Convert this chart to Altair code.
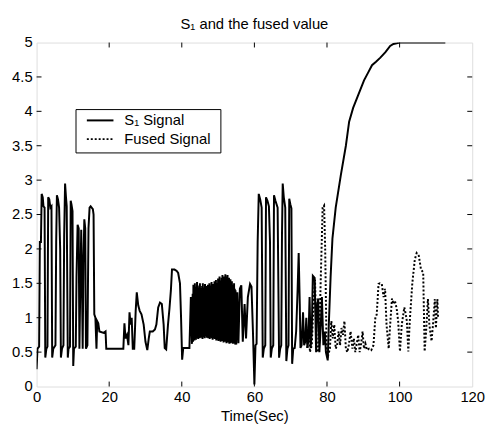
import altair as alt
import pandas as pd

# ---- S1 signal, part 1 (0 - 43 s) ----
s1a_time = [
    0.0, 0.25, 0.7, 0.9, 1.2, 1.4, 1.7, 1.9, 2.2, 2.4, 2.7, 3.0, 3.2, 3.5, 3.8, 4.1, 4.3, 4.6,
    5.2, 5.4, 5.6, 5.9, 6.2, 6.5, 6.7, 7.0, 7.4, 7.6, 7.85, 8.1, 8.3, 8.6, 8.8, 9.2, 9.4, 9.6,
    9.9, 10.1, 10.3, 10.8, 11.0, 11.3, 11.6, 11.8, 12.0, 12.3, 12.5, 12.7, 12.9, 13.15, 13.4,
    13.6, 14.0, 14.3, 14.6, 14.9, 15.5, 15.7, 15.9, 16.2, 16.5, 16.7, 17.0, 17.3, 18.5, 19.0,
    19.2, 21.0, 23.9,
    24.2, 24.5, 24.9, 25.3, 25.6, 25.9, 26.2, 26.5, 26.9, 27.3, 27.6, 28.0, 28.4, 28.9, 29.5,
    30.0, 30.5, 30.9, 31.2, 32.0, 32.6, 33.0, 33.5, 34.0, 34.5, 35.0, 35.3, 35.7, 36.2, 36.6,
    37.0, 37.3, 38.0, 38.6, 39.0, 39.5, 39.8, 40.1, 40.4, 42.1, 42.5, 42.8,
]
s1a_value = [
    0.25, 0.55, 0.58, 2.1, 2.1, 2.8, 2.75, 2.62, 2.6, 0.42, 0.55, 0.58, 2.75, 2.72, 2.6, 2.62, 0.42, 0.55,
    0.6, 2.1, 2.78, 2.72, 2.6, 2.0, 0.42, 0.55, 0.6, 2.2, 2.95, 2.75, 2.62, 0.42, 0.55, 0.58, 2.7, 2.65,
    2.55, 0.3, 0.55, 0.58, 1.6, 2.35, 2.3, 0.55, 1.3, 2.28, 1.5, 0.55, 1.8, 2.43, 2.3,
    0.55, 0.6, 2.3, 2.6, 2.62, 2.58, 2.5, 1.05, 1.0, 0.55, 0.95, 0.92, 0.8, 0.78, 0.8,
    0.55, 0.55, 0.55,
    0.92, 0.7, 0.75, 0.6, 1.08, 0.9, 1.0, 0.55, 0.55, 1.1, 1.37, 1.18, 1.1, 1.05, 0.9,
    0.65, 0.53, 0.7, 0.8, 0.8, 0.83, 0.9, 1.15, 1.22, 1.2, 0.9, 0.56, 0.54, 0.9, 1.13,
    1.4, 1.7, 1.7, 1.68, 1.65, 1.5, 1.0, 0.39, 0.56, 0.56, 1.3, 0.62,
]

# ---- S1 signal, part 2: dense oscillation (43 - 55 s) ----
s1b_time = [
    43.0, 43.1, 43.2, 43.3, 43.4, 43.5, 43.6, 43.7, 43.8, 43.9, 44.0, 44.1, 44.2, 44.3, 44.4,
    44.5, 44.6, 44.7, 44.8, 44.9, 45.0, 45.1, 45.2, 45.3, 45.4, 45.5, 45.6, 45.7, 45.8, 45.9,
    46.0, 46.1, 46.2, 46.3, 46.4, 46.5, 46.6, 46.7, 46.8, 46.9, 47.0, 47.1, 47.2, 47.3, 47.4,
    47.5, 47.6, 47.7, 47.8, 47.9, 48.0, 48.1, 48.2, 48.3, 48.4, 48.5, 48.6, 48.7, 48.8, 48.9,
    49.0, 49.1, 49.2, 49.3, 49.4, 49.5, 49.6, 49.7, 49.8, 49.9, 50.0, 50.1, 50.2, 50.3, 50.4,
    50.5, 50.6, 50.7, 50.8, 50.9, 51.0, 51.1, 51.2, 51.3, 51.4, 51.5, 51.6, 51.7, 51.8, 51.9,
    52.0, 52.1, 52.2, 52.3, 52.4, 52.5, 52.6, 52.7, 52.8, 52.9, 53.0, 53.1, 53.2, 53.3, 53.4,
    53.5, 53.6, 53.7, 53.8, 53.9, 54.0, 54.1, 54.2, 54.3, 54.4, 54.5, 54.6, 54.7, 54.8, 54.9,
]
s1b_value = [
    1.35, 0.65, 1.48, 0.7, 1.42, 0.67, 1.5, 0.72, 1.45, 0.68, 1.38, 0.71, 1.52, 0.74, 1.44,
    0.69, 1.4, 0.72, 1.47, 0.7, 1.5, 0.75, 1.43, 0.71, 1.38, 0.73, 1.46, 0.69, 1.5, 0.72,
    1.41, 0.74, 1.44, 0.7, 1.49, 0.73, 1.42, 0.75, 1.46, 0.71, 1.4, 0.72, 1.48, 0.7, 1.45,
    0.74, 1.5, 0.69, 1.43, 0.71, 1.47, 0.73, 1.52, 0.7, 1.44, 0.68, 1.49, 0.72, 1.46, 0.7,
    1.53, 0.69, 1.45, 0.71, 1.55, 0.67, 1.5, 0.7, 1.48, 0.68, 1.57, 0.66, 1.52, 0.7, 1.6,
    0.67, 1.54, 0.65, 1.5, 0.69, 1.58, 0.66, 1.62, 0.68, 1.55, 0.64, 1.6, 0.67, 1.57, 0.65,
    1.63, 0.66, 1.56, 0.63, 1.6, 0.67, 1.62, 0.64, 1.55, 0.66, 1.58, 0.62, 1.52, 0.65, 1.56,
    0.63, 1.5, 0.66, 1.53, 0.64, 1.48, 0.62, 1.45, 0.65, 1.5, 0.63, 1.42, 0.61, 1.4, 0.64,
]

# ---- S1 signal, part 3 (55 s - end) ----
s1c_time = [
    55.0, 55.3, 55.6, 56.0, 56.4, 56.8, 57.3, 57.7, 58.2, 58.8, 59.2, 59.6, 60.0, 60.3, 60.6,
    60.9, 61.2, 61.6, 62.0, 62.3, 62.6, 63.0, 63.2, 63.6, 64.0, 64.3, 64.5, 64.8, 65.2, 65.4,
    65.8, 66.4, 66.8, 67.1, 67.4, 67.6, 67.8, 68.1, 68.5, 68.8, 69.1, 69.4, 69.6, 69.9, 70.2,
    70.4, 70.7, 71.1, 71.5, 71.9, 72.2, 72.5, 72.7, 73.0, 73.4, 73.7, 74.0, 74.3, 74.6, 74.9,
    75.2, 75.5, 75.8, 76.1, 76.6, 77.0, 77.3, 77.6, 77.9, 78.3, 78.6, 79.0, 79.4, 79.7, 80.2,
    80.5, 81.0, 81.5, 82.4, 83.8, 85.2, 86.1, 87.2, 88.4, 90.2, 91.4, 92.4, 93.5, 94.7, 96.1,
    97.4, 98.3, 99.2, 100.0, 112.6,
]
s1c_value = [
    0.61, 1.37, 0.63, 1.42, 1.47, 0.65, 1.2, 0.7, 1.3, 1.49, 1.45, 0.8, 0.03, 0.6, 0.62,
    2.1, 2.8, 2.72, 2.6, 0.42, 0.55, 0.6, 2.75, 2.7, 2.62, 2.1, 0.42, 0.55, 0.6, 2.78,
    2.7, 2.6, 0.42, 0.55, 0.6, 2.2, 2.95, 2.75, 2.6, 0.37, 0.55, 0.6, 2.73, 2.65, 2.59,
    0.33, 0.55, 0.56, 0.8, 1.4, 1.94, 1.2, 0.56, 0.6, 1.08, 0.6, 0.65, 1.0, 0.56, 0.7,
    1.3, 0.56, 0.8, 1.61, 1.58, 0.5, 1.2, 1.28, 0.5, 0.9, 1.3, 0.6, 0.8, 0.5, 0.38,
    0.9, 1.6, 2.15, 2.6, 3.07, 3.5, 3.85, 4.05, 4.21, 4.45, 4.57, 4.67, 4.72, 4.78, 4.86,
    4.95, 4.98, 4.99, 5.0, 5.0,
]

# ---- Fused signal ----
fused_time = [
    74.6, 75.0, 75.3, 75.8, 76.3, 76.7, 77.0, 77.3, 77.8, 78.3, 78.8, 79.2, 79.5, 79.9, 80.3,
    80.8, 81.2, 81.6, 82.0, 82.4, 82.8, 83.2, 83.6, 84.0, 84.4, 84.8, 85.2, 85.6, 86.0, 86.5,
    87.0, 87.4, 87.8, 88.2, 88.6, 89.0, 89.4, 89.8, 90.2, 90.6, 91.0, 91.6, 92.2, 92.8, 93.3,
    93.7, 94.2, 94.6, 95.1, 95.6, 96.0, 96.4, 97.0, 97.4, 97.9, 98.3, 98.7, 99.2, 99.6, 100.1,
    100.6, 101.3, 101.7, 102.0, 102.4, 102.8, 103.5, 104.2, 104.7, 105.3, 105.9, 106.5, 106.9,
    107.3, 107.8, 108.2, 108.8, 109.2, 109.7, 110.0, 110.4, 110.6,
]
fused_value = [
    0.56, 0.9, 0.5, 0.6, 1.2, 1.55, 0.9, 0.5, 0.55, 1.6, 2.6, 2.63, 2.0, 0.5, 0.45,
    0.55, 0.95, 0.7, 0.9, 0.55, 0.6, 0.8, 0.6, 0.85, 0.75, 0.95, 0.55, 0.5, 0.6, 0.8,
    0.55, 0.7, 0.5, 0.62, 0.75, 0.5, 0.62, 0.8, 0.55, 0.62, 0.53, 0.55, 0.53, 0.6, 0.99,
    1.05, 1.49, 1.5, 1.49, 1.3, 1.42, 0.9, 0.55, 0.9, 1.28, 1.2, 1.25, 1.13, 0.95, 0.51,
    0.9, 1.15, 1.05, 0.95, 0.51, 0.95, 1.5, 1.85, 1.94, 1.9, 1.7, 1.66, 0.51,
    0.8, 1.27, 0.9, 0.66, 0.9, 1.27, 0.85, 1.27, 1.0,
]

series_names = ["S\u2081 Signal", "Fused Signal"]
chart_title = "S\u2081 and the fused value"
x_ticks = [0, 20, 40, 60, 80, 100, 120]
y_ticks = [0, 0.5, 1, 1.5, 2, 2.5, 3, 3.5, 4, 4.5, 5]
y_tick_labels = ["0", "0.5", "1", "1.5", "2", "2.5", "3", "3.5", "4", "4.5", "5"]

FONT = "Liberation Sans"
FS = 15
W, H = 442, 349

s1_df = pd.DataFrame({"t": s1a_time + s1b_time + s1c_time,
                      "v": s1a_value + s1b_value + s1c_value})
fu_df = pd.DataFrame({"t": fused_time, "v": fused_value})

xscale = alt.Scale(domain=[0, 120], nice=False, zero=False)
yscale = alt.Scale(domain=[0, 5], nice=False)

xaxis = alt.Axis(values=x_ticks, ticks=False, tickSize=0, domain=False, grid=False,
                 labelFont=FONT, labelFontSize=FS, labelColor="black", labelPadding=3,
                 labelOverlap=False, labelFlush=False,
                 title="Time(Sec)", titleFont=FONT, titleFontSize=FS,
                 titleFontWeight="normal", titleColor="black", titlePadding=5)
yaxis = alt.Axis(values=y_ticks, ticks=False, tickSize=0, domain=False, grid=False,
                 labels=False, title=None)

s1_line = alt.Chart(s1_df).mark_line(color="black", strokeWidth=2, clip=True).encode(
    x=alt.X("t:Q", scale=xscale, axis=xaxis),
    y=alt.Y("v:Q", scale=yscale, axis=yaxis),
)
fu_line = alt.Chart(fu_df).mark_line(color="black", strokeWidth=2, strokeDash=[2, 2],
                                      clip=True).encode(
    x=alt.X("t:Q", scale=xscale),
    y=alt.Y("v:Q", scale=yscale),
)

# y tick labels (all half steps)
ylab_df = pd.DataFrame({"y": y_ticks, "label": y_tick_labels})
ylabels = alt.Chart(ylab_df).mark_text(font=FONT, fontSize=FS, color="black",
                                       align="right", baseline="middle").encode(
    y=alt.Y("y:Q", scale=yscale), x=alt.value(-4), text="label:N")

# inward ticks on all four sides (MATLAB box style)
xt = pd.DataFrame({"x": x_ticks[1:-1]})
yt = pd.DataFrame({"y": y_ticks[1:-1]})
tick_len = 5
xb = alt.Chart(xt).mark_rule(color="black", strokeWidth=1).encode(
    x=alt.X("x:Q", scale=xscale), y=alt.value(H), y2=alt.value(H - tick_len))
xtop = alt.Chart(xt).mark_rule(color="black", strokeWidth=1).encode(
    x=alt.X("x:Q", scale=xscale), y=alt.value(0), y2=alt.value(tick_len))
yl = alt.Chart(yt).mark_rule(color="black", strokeWidth=1).encode(
    y=alt.Y("y:Q", scale=yscale), x=alt.value(0), x2=alt.value(tick_len))
yr = alt.Chart(yt).mark_rule(color="black", strokeWidth=1).encode(
    y=alt.Y("y:Q", scale=yscale), x=alt.value(W), x2=alt.value(W - tick_len))

# title
title_df = pd.DataFrame({"label": [chart_title]})
title = alt.Chart(title_df).mark_text(font=FONT, fontSize=FS, color="black",
                                      align="center", baseline="alphabetic").encode(
    text="label:N", x=alt.value(W / 2), y=alt.value(-14))

# legend box
LX0, LX1, LY0, LY1 = 40, 187, 68, 112
row_y = [79, 98]
leg_df = pd.DataFrame({"label": series_names})
box = alt.Chart(leg_df.head(1)).mark_rect(fill="white", stroke="black", strokeWidth=1).encode(
    x=alt.value(LX0), x2=alt.value(LX1), y=alt.value(LY0), y2=alt.value(LY1))
sym1 = alt.Chart(leg_df.head(1)).mark_rule(color="black", strokeWidth=2).encode(
    x=alt.value(51), x2=alt.value(78), y=alt.value(row_y[0]))
sym2 = alt.Chart(leg_df.head(1)).mark_rule(color="black", strokeWidth=2,
                                           strokeDash=[2, 2]).encode(
    x=alt.value(51), x2=alt.value(78), y=alt.value(row_y[1]))
txt1 = alt.Chart(leg_df.iloc[[0]]).mark_text(font=FONT, fontSize=FS, color="black",
                                            align="left", baseline="middle").encode(
    text="label:N", x=alt.value(89), y=alt.value(row_y[0]))
txt2 = alt.Chart(leg_df.iloc[[1]]).mark_text(font=FONT, fontSize=FS, color="black",
                                            align="left", baseline="middle").encode(
    text="label:N", x=alt.value(89), y=alt.value(row_y[1]))

chart = alt.layer(s1_line, fu_line, ylabels, xb, xtop, yl, yr, title,
                  box, sym1, sym2, txt1, txt2).properties(
    width=W, height=H,
    autosize=alt.AutoSizeParams(type="none"),
    padding={"left": 29, "top": 32, "right": 14, "bottom": 36},
).configure_view(stroke="black", strokeWidth=1).configure(background="white")

chart.save("out.html", embed_options={"renderer": "svg", "actions": False})
